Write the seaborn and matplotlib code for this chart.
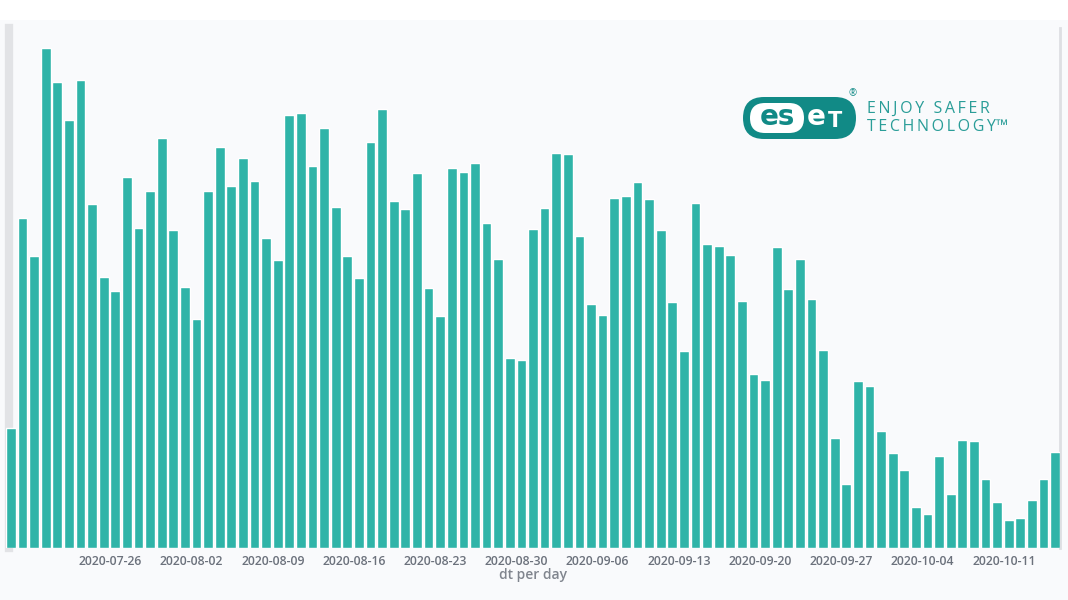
import pandas as pd
import matplotlib.pyplot as plt
import seaborn as sns
from matplotlib.patches import FancyBboxPatch, Rectangle

# daily counts, 2020-07-17 .. 2020-10-15 (y scale not shown in the source)
start_day = "2020-07-17"
counts = [
    2770, 7620, 6740, 11550, 10760, 9880, 10810, 7940, 6260, 5940,
    8570, 7390, 8240, 9470, 7340, 6030, 5290, 8240, 9260, 8360,
    9010, 8480, 7160, 6650, 10000, 10050, 8820, 9700, 7880, 6740,
    6240, 9380, 10120, 8010, 7830, 8660, 6000, 5360, 8780, 8680,
    8890, 7510, 6670, 4390, 4340, 7370, 7850, 9120, 9100, 7210,
    5640, 5380, 8080, 8130, 8450, 8060, 7340, 5680, 4550, 7970,
    7020, 6970, 6770, 5700, 4020, 3880, 6950, 5980, 6670, 5750,
    4570, 2540, 1480, 3860, 3740, 2700, 2190, 1800, 950, 790,
    2120, 1250, 2490, 2470, 1590, 1060, 650, 690, 1110, 1590,
    2220,
]
tick_dates = ["2020-07-26", "2020-08-02", "2020-08-09", "2020-08-16",
              "2020-08-23", "2020-08-30", "2020-09-06", "2020-09-13",
              "2020-09-20", "2020-09-27", "2020-10-04", "2020-10-11"]

days = pd.date_range(start_day, periods=len(counts)).strftime("%Y-%m-%d").tolist()
df = pd.DataFrame({"dt": days, "count": counts})

BAR = "#2fb4a8"
BG = "#f9fafc"
TEAL = "#118a86"
BAR_W = 0.84

sns.set_style("white")
plt.rcParams["font.family"] = ["Open Sans", "DejaVu Sans"]

fig = plt.figure(figsize=(10.68, 6), dpi=100, facecolor=BG)
fig.add_artist(Rectangle((0, 580), 1068, 20, transform=None, facecolor="white",
                         edgecolor="none", zorder=0))
ax = fig.add_axes([6 / 1068, 52 / 600, 1054 / 1068, 520 / 600])
ax.set_facecolor(BG)

sns.barplot(data=df, x="dt", y="count", color=BAR, saturation=1, width=BAR_W,
            ax=ax, zorder=2)

ax.set_xlim(-BAR_W / 2, len(counts) - 1 + BAR_W / 2)
ax.set_ylim(0, 12000)
ax.set_yticks(range(0, 12001, 1000))
ax.tick_params(axis="y", direction="out", length=5, width=1, color="#d3d5da",
               labelleft=False)

ax.set_xticks([days.index(d) - BAR_W / 2 for d in tick_dates])
ax.set_xticklabels(tick_dates)
ax.tick_params(axis="x", direction="out", length=3, width=1, color="#c9ccd2",
               pad=2, labelsize=8.8, labelcolor="#6b717c")
for t in ax.get_xticklabels():
    t.set_fontweight("semibold")
ax.set_xlabel("dt per day", fontsize=10, color="#80858e", fontweight="semibold",
              labelpad=0)
ax.set_ylabel("")

for side in ["top", "bottom"]:
    ax.spines[side].set_visible(False)
ax.spines["left"].set_color("#e2e3e6")
ax.spines["left"].set_linewidth(6)
ax.spines["left"].set_zorder(1)
ax.spines["left"].set_position(("axes", 0.003))
ax.spines["right"].set_color("#dedfe3")
ax.spines["right"].set_linewidth(2)
ax.spines["right"].set_zorder(1)

# ESET logo (pixel coordinates, origin bottom-left)
fig.add_artist(FancyBboxPatch((743, 461), 113, 42, transform=None,
                              boxstyle="round,pad=0,rounding_size=21",
                              facecolor=TEAL, edgecolor="none", zorder=5))
fig.add_artist(FancyBboxPatch((750, 467), 54, 30, transform=None,
                              boxstyle="round,pad=0,rounding_size=15",
                              facecolor="white", edgecolor="none", zorder=6))
fig.text(777, 483, "es", transform=None, ha="center", va="center",
         fontsize=20, fontweight="bold", color=TEAL, family="DejaVu Sans", zorder=7)
fig.text(816, 483, "e", transform=None, ha="center", va="center",
         fontsize=20, fontweight="bold", color="white", family="DejaVu Sans", zorder=7)
fig.text(835, 479, "T", transform=None, ha="center", va="center",
         fontsize=15, fontweight="bold", color="white", family="DejaVu Sans", zorder=7)
fig.text(853, 506, "®", transform=None, ha="center", va="center",
         fontsize=7, color=TEAL, zorder=7)
sp = "\u2009"
fig.text(867, 491, sp.join("ENJOY SAFER"), transform=None, ha="left", va="center",
         fontsize=11.5, color="#2a9d98", zorder=7)
fig.text(867, 473, sp.join("TECHNOLOGY") + "™", transform=None, ha="left",
         va="center", fontsize=11.5, color="#2a9d98", zorder=7)

fig.savefig("out.png", dpi=100, facecolor=fig.get_facecolor())
